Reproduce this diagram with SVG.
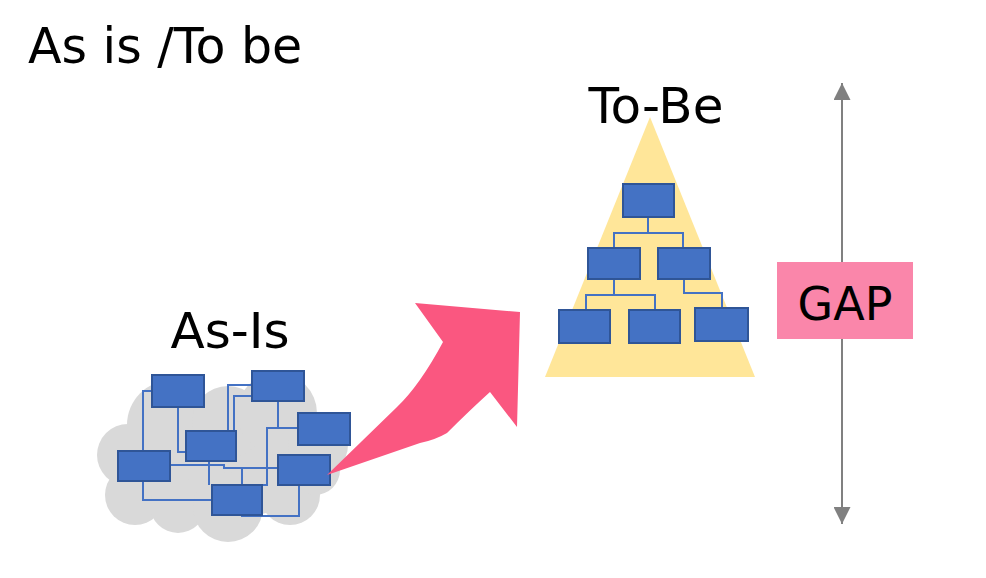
<svg xmlns="http://www.w3.org/2000/svg" width="986" height="578" viewBox="0 0 986 578">
<style>
text{font-family:"DejaVu Sans","Liberation Sans",sans-serif;fill:#000}
.box{fill:#4472C4;stroke:#2F5597;stroke-width:2}
.ln{fill:none;stroke:#4472C4;stroke-width:2}
.cloud{fill:#D9D9D9}
</style>
<defs>
<marker id="ah" viewBox="0 0 10 10" refX="10" refY="5" markerWidth="17" markerHeight="17" markerUnits="userSpaceOnUse" orient="auto"><path d="M0,0L10,5L0,10z" fill="#808080"/></marker>
</defs>
<rect width="986" height="578" fill="#fff"/>
<text id="title" x="28" y="63" font-size="49">As is /To be</text>

<g id="cloud">
<ellipse class="cloud" cx="222" cy="458" rx="110" ry="60"/>
<circle class="cloud" cx="172" cy="425" r="45"/>
<circle class="cloud" cx="228" cy="422" r="36"/>
<circle class="cloud" cx="277" cy="413" r="40"/>
<circle class="cloud" cx="318" cy="445" r="30"/>
<circle class="cloud" cx="128" cy="455" r="31"/>
<circle class="cloud" cx="135" cy="495" r="30"/>
<circle class="cloud" cx="178" cy="505" r="28"/>
<circle class="cloud" cx="228" cy="507" r="35"/>
<circle class="cloud" cx="290" cy="495" r="30"/>
<circle class="cloud" cx="315" cy="470" r="25"/>
</g>
<text id="asis-label" x="230" y="348" font-size="50" text-anchor="middle">As-Is</text>

<g id="asis-connectors">
<polyline class="ln" points="152,391 143,391 143,451"/>
<polyline class="ln" points="178,407 178,452 186,452"/>
<polyline class="ln" points="252,385 228,385 228,431"/>
<polyline class="ln" points="252,396 234,396 234,431"/>
<polyline class="ln" points="278,401 278,428 298,428"/>
<polyline class="ln" points="278,428 267,428 267,485 262,485"/>
<polyline class="ln" points="170,465 224,465 224,468 278,468"/>
<polyline class="ln" points="242,468 242,485"/>
<polyline class="ln" points="209,461 209,485"/>
<polyline class="ln" points="143,481 143,500 212,500"/>
<polyline class="ln" points="299,485 299,516 242,516 242,515"/>
</g>
<g id="asis-nodes">
<rect id="a1" class="box" x="152" y="375" width="52" height="32"/>
<rect id="a2" class="box" x="252" y="371" width="52" height="30"/>
<rect id="a3" class="box" x="298" y="413" width="52" height="32"/>
<rect id="a4" class="box" x="186" y="431" width="50" height="30"/>
<rect id="a5" class="box" x="118" y="451" width="52" height="30"/>
<rect id="a6" class="box" x="278" y="455" width="52" height="30"/>
<rect id="a7" class="box" x="212" y="485" width="50" height="30"/>
</g>

<g id="big-arrow">
<path d="M327,475 L397,407 Q420,385 443,342 L415,303 L520,312 L517,427 L490,392 Q470,410 447,433 Q435,440 420,443 Z" fill="#FA5780"/>
</g>

<g id="tobe">
<polygon points="650,117 545,377 755,377" fill="#FFE699"/>
</g>
<text id="tobe-label" x="656" y="123" font-size="50" text-anchor="middle">To-Be</text>
<g id="tobe-connectors">
<polyline class="ln" points="648,217 648,233 614,233 614,248"/>
<polyline class="ln" points="648,233 683,233 683,248"/>
<polyline class="ln" points="614,279 614,295 586,295 586,310"/>
<polyline class="ln" points="614,295 655,295 655,310"/>
<polyline class="ln" points="684,279 684,293 722,293 722,308"/>
</g>
<g id="tobe-nodes">
<rect id="t1" class="box" x="623" y="184" width="51" height="33"/>
<rect id="t2" class="box" x="588" y="248" width="52" height="31"/>
<rect id="t3" class="box" x="658" y="248" width="52" height="31"/>
<rect id="t4" class="box" x="559" y="310" width="51" height="33"/>
<rect id="t5" class="box" x="629" y="310" width="51" height="33"/>
<rect id="t6" class="box" x="695" y="308" width="53" height="33"/>
</g>

<g id="gap-arrows">
<line x1="842" y1="262" x2="842" y2="83" stroke="#808080" stroke-width="2" marker-end="url(#ah)"/>
<line x1="842" y1="339" x2="842" y2="524" stroke="#808080" stroke-width="2" marker-end="url(#ah)"/>
</g>
<g id="gap">
<rect x="777" y="262" width="136" height="77" fill="#FA86AA"/>
<text x="845" y="320" font-size="46" text-anchor="middle">GAP</text>
</g>
</svg>
